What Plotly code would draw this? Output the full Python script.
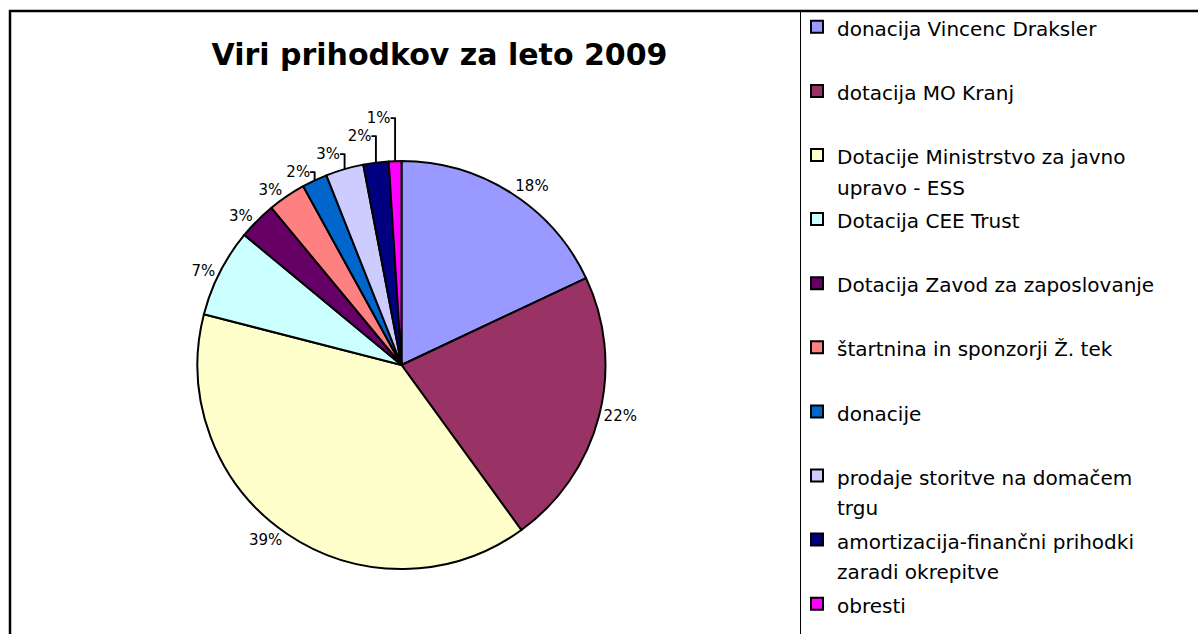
import textwrap
import plotly.graph_objects as go

# ---------------- data ----------------
title_text = "Viri prihodkov za leto 2009"
categories = [
    "donacija Vincenc Draksler",
    "dotacija MO Kranj",
    "Dotacije Ministrstvo za javno upravo - ESS",
    "Dotacija CEE Trust",
    "Dotacija Zavod za zaposlovanje",
    "štartnina in sponzorji Ž. tek",
    "donacije",
    "prodaje storitve na domačem trgu",
    "amortizacija-finančni prihodki zaradi okrepitve",
    "obresti",
]
shares = [18, 22, 39, 7, 3, 3, 2, 3, 2, 1]
colors = [
    "#9999FF", "#993366", "#FFFFCC", "#CCFFFF", "#660066",
    "#FF8080", "#0066CC", "#CCCCFF", "#000080", "#FF00FF",
]

# ---------------- layout constants ----------------
W, H = 1198, 634
FONT = "DejaVu Sans"
cx, cy, r = 401.5, 365, 204  # pie centre / radius in px


def legend_label(name, last):
    lines = textwrap.wrap(name, width=30, break_on_hyphens=False)
    if len(lines) < 2 and not last:
        lines.append(" ")
    return "<br>".join(f"<span style='font-size:20px'>{ln}</span>" for ln in lines)


labels = [legend_label(c, i == len(categories) - 1) for i, c in enumerate(categories)]

fig = go.Figure(
    go.Pie(
        labels=labels,
        values=shares,
        customdata=categories,
        sort=False,
        direction="clockwise",
        rotation=0,
        marker=dict(colors=colors, line=dict(color="black", width=2)),
        textinfo="percent",
        texttemplate="%{percent:.0%}",
        textposition="outside",
        outsidetextfont=dict(family=FONT, size=15, color="black"),
        hovertemplate="%{customdata}: %{percent:.0%}<extra></extra>",
        domain=dict(
            x=[(cx - r) / W, (cx + r) / W],
            y=[1 - (cy + r) / H, 1 - (cy - r) / H],
        ),
        automargin=False,
        showlegend=True,
    )
)

fig.update_layout(
    width=W,
    height=H,
    margin=dict(l=0, r=0, t=0, b=0),
    paper_bgcolor="white",
    plot_bgcolor="white",
    title=dict(
        text=title_text,
        font=dict(family=FONT, size=30, color="black", weight="bold"),
        x=439.5 / W,
        xanchor="center",
        xref="paper",
        y=1 - 54.5 / H,
        yanchor="middle",
        yref="container",
    ),
    legend=dict(
        x=797 / W,
        xanchor="left",
        y=1 - 5 / H,
        yanchor="top",
        valign="top",
        font=dict(family=FONT, size=23.5, color="black"),
        bgcolor="rgba(0,0,0,0)",
        borderwidth=0,
        traceorder="normal",
        maxheight=H,
    ),
    shapes=[
        dict(
            type="rect", xref="paper", yref="paper",
            x0=10 / W, x1=1.02, y0=-0.02, y1=1 - 11 / H,
            line=dict(color="black", width=2.5),
            fillcolor="rgba(0,0,0,0)", layer="above",
        ),
        dict(
            type="line", xref="paper", yref="paper",
            x0=800.5 / W, x1=800.5 / W, y0=-0.02, y1=1 - 11 / H,
            line=dict(color="black", width=1), layer="above",
        ),
    ],
)

fig.write_html(
    "out.html",
    config={"displayModeBar": False},
    post_script="document.body.style.margin='0';document.body.style.overflow='hidden';",
)
